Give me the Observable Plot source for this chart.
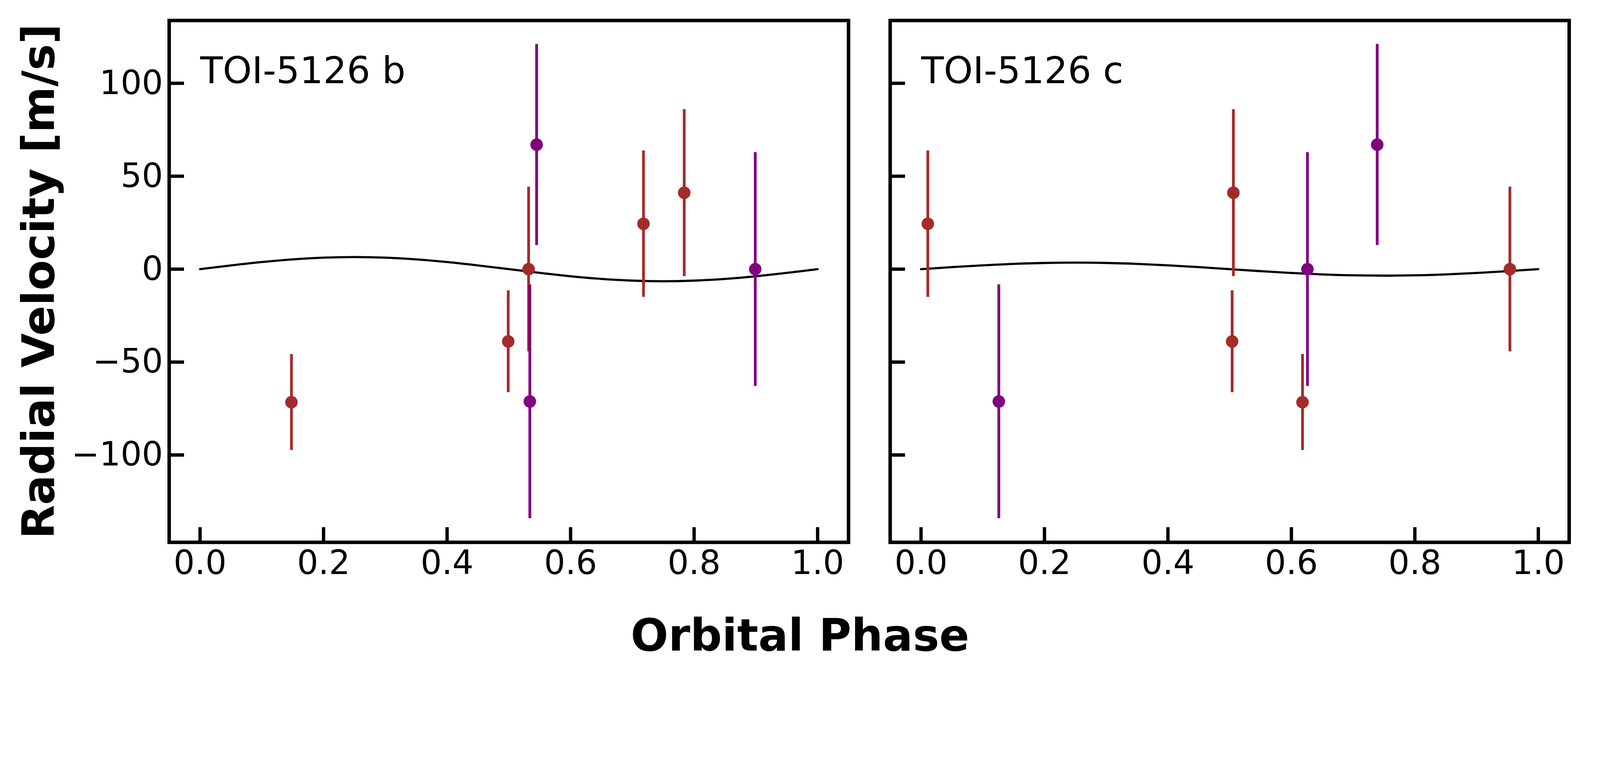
<!DOCTYPE html>
<html>
<head>
<meta charset="utf-8">
<script src="https://cdn.jsdelivr.net/npm/d3@7"></script>
<script src="https://cdn.jsdelivr.net/npm/@observablehq/plot@0.6"></script>
<style>
  html, body { margin: 0; padding: 0; background: #fff; overflow: hidden; }
  #outer { position: relative; width: 4800px; height: 2000px; overflow: hidden; background: #fff; }
  #fig { position: absolute; left: 0; top: 0; width: 4800px; height: 2000px; background: #fff; font-family: "DejaVu Sans", sans-serif; color: #000; transform-origin: 0 0; }
  #left { position: absolute; left: 0; top: 0; width: 2600px; }
  #right { position: absolute; left: 2600px; top: 0; width: 2200px; }
  #xlabel { position: absolute; left: 0; width: 4800px; top: 1840px; text-align: center; font-weight: bold; font-size: 133px; line-height: 133px; white-space: nowrap; }
  svg { max-width: none !important; }
</style>
</head>
<body>
<div id="outer">
<div id="fig">
  <div id="left"></div>
  <div id="right"></div>
  <div id="xlabel">Orbital Phase</div>
</div>
</div>
<script>
// ---- data ----
const instruments = ["Instrument 1", "Instrument 2"];
const instrumentColors = ["#a52a2a", "#800080"];

// one entry per RV observation
const obsInstrument = [0, 0, 0, 0, 0, 1, 1, 1];
const obsRV  = [-71.6, -38.9, 0.0, 24.4, 41.1, -71.2, 67.0, 0.0];
const obsErr = [25.8, 27.4, 44.3, 39.4, 44.9, 62.9, 54.1, 62.9];
const phaseB = [0.148, 0.499, 0.532, 0.718, 0.784, 0.534, 0.545, 0.899];
const phaseC = [0.618, 0.504, 0.954, 0.011, 0.506, 0.126, 0.739, 0.626];

// Keplerian model curves (sampled)
const modelPhase = [0, 0.05, 0.1, 0.15, 0.2, 0.25, 0.3, 0.35, 0.4, 0.45, 0.5, 0.55, 0.6, 0.65, 0.7, 0.75, 0.8, 0.85, 0.9, 0.95, 1.0];
const modelB = [0, 2.01, 3.82, 5.26, 6.18, 6.5, 6.18, 5.26, 3.82, 2.01, 0, -2.01, -3.82, -5.26, -6.18, -6.5, -6.18, -5.26, -3.82, -2.01, 0];
const modelC = [0, 1.08, 2.06, 2.83, 3.33, 3.5, 3.33, 2.83, 2.06, 1.08, 0, -1.08, -2.06, -2.83, -3.33, -3.5, -3.33, -2.83, -2.06, -1.08, 0];

const xTicks = [0, 0.2, 0.4, 0.6, 0.8, 1.0];
const yTicks = [-100, -50, 0, 50, 100];
const xDomain = [-0.05, 1.05];
const yDomain = [-147, 133.8];
const panelNames = ["TOI-5126 b", "TOI-5126 c"];
const yLabel = "Radial Velocity [m/s]";

function panel(phases, model, name, opts) {
  const obs = phases.map((p, i) => ({phase: p, rv: obsRV[i], err: obsErr[i], inst: instruments[obsInstrument[i]]}));
  const curve = modelPhase.map((p, i) => ({phase: p, rv: model[i]}));
  const marks = [
    Plot.line(curve, {x: "phase", y: "rv", stroke: "black", strokeWidth: 6.5, curve: "catmull-rom"})
  ];
  for (const inst of instruments) {
    const sub = obs.filter(d => d.inst === inst);
    marks.push(Plot.ruleX(sub, {x: "phase", y1: d => d.rv - d.err, y2: d => d.rv + d.err, stroke: "inst", strokeWidth: 8.3}));
    marks.push(Plot.dot(sub, {x: "phase", y: "rv", r: 18.8, fill: "inst", stroke: null}));
  }
  marks.push(Plot.axisX({ticks: xTicks, tickSize: -45, tickPadding: 69, strokeWidth: 10, tickFormat: d3.format(".1f"), label: null, fontSize: 100}));
  marks.push(Plot.axisY({ticks: yTicks, tickSize: -45, tickPadding: 63.5, strokeWidth: 10, tickFormat: opts.yLabels ? d3.format("d") : () => "", label: null, fontSize: 100}));
  marks.push(Plot.text([name], {frameAnchor: "top-left", text: d => d, dx: 93, dy: 188, lineAnchor: "bottom", textAnchor: "start", fontSize: 111, fill: "black"}));
  if (opts.yTitle) {
    marks.push(Plot.text([yLabel], {frameAnchor: "left", text: d => d, rotate: -90, dx: -346, lineAnchor: "bottom", textAnchor: "middle", fontSize: 133, fontWeight: "bold", fill: "black"}));
  }
  marks.push(Plot.frame({stroke: "black", strokeWidth: 10.5}));
  return Plot.plot({
    width: opts.width,
    height: 1780,
    marginLeft: opts.marginLeft,
    marginRight: opts.marginRight,
    marginTop: 61,
    marginBottom: 153,
    x: {domain: xDomain},
    y: {domain: yDomain},
    color: {domain: instruments, range: instrumentColors},
    style: {fontFamily: "DejaVu Sans", fontSize: "100px", background: "white", color: "black", overflow: "visible"},
    marks
  });
}

document.getElementById("left").append(panel(phaseB, modelB, panelNames[0], {width: 2600, marginLeft: 507, marginRight: 55, yLabels: true, yTitle: true}));
document.getElementById("right").append(panel(phaseC, modelC, panelNames[1], {width: 2200, marginLeft: 70, marginRight: 93, yLabels: false, yTitle: false}));

// fit the 4800x2000 figure into the actual viewport width
function fit() {
  const vw = document.documentElement.clientWidth || window.innerWidth || 4800;
  const s = vw / 4800;
  const outer = document.getElementById("outer");
  const fig = document.getElementById("fig");
  outer.style.width = (4800 * s) + "px";
  outer.style.height = (2000 * s) + "px";
  fig.style.transform = s === 1 ? "" : `scale(${s})`;
}
fit();
window.addEventListener("resize", fit);
</script>
</body>
</html>
